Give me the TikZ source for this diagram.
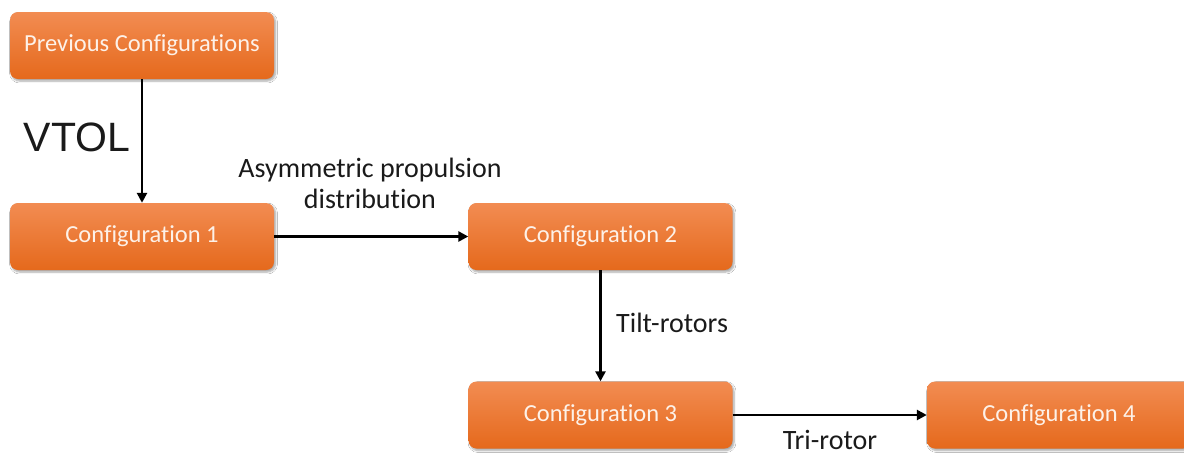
\documentclass[tikz,border=0pt]{standalone}
\usepackage{fontspec}
\setmainfont{Carlito}[Ligatures={NoCommon}]
\newfontfamily\arialfont{Liberation Sans}
\usetikzlibrary{arrows.meta,shadows.blur}
\definecolor{boxtop}{HTML}{F28C52}
\definecolor{boxbot}{HTML}{E5691C}
\definecolor{boxtext}{HTML}{FDF1E8}
\definecolor{labeltext}{HTML}{1A1A1A}
\tikzset{
  config/.style={rounded corners=8pt, minimum width=264pt, minimum height=67pt,
    top color=boxtop, bottom color=boxbot, draw=none,
    blur shadow={shadow xshift=1.5pt, shadow yshift=-2pt, shadow blur steps=6, shadow opacity=35},
    text=boxtext, font=\fontsize{24.5}{28}\selectfont, inner sep=0pt},
  link/.style={draw=black, line width=2.8pt, -{Triangle[length=10pt,width=10pt]}},
  lbl/.style={text=labeltext, font=\fontsize{28}{31}\selectfont, align=center, inner sep=0pt}
}
\begin{document}
\begin{tikzpicture}[x=1pt,y=-1pt]
\useasboundingbox[fill=white] (0,0) rectangle (1184,456);
\begin{scope}
\clip (0,0) rectangle (1184,456);
\node[config] (prev) at (142,45.5) {Previous Configurations};
\node[config] (c1) at (142,236.5) {Configuration 1};
\node[config] (c2) at (600.5,236.5) {Configuration 2};
\node[config] (c3) at (600.5,415) {Configuration 3};
\node[config] (c4) at (1059,415) {Configuration 4};
\end{scope}

\draw[link] (prev) -- (c1);
\draw[link] (c1) -- (c2);
\draw[link] (c2) -- (c3);
\draw[link] (c3) -- (c4);

\node[lbl, font=\arialfont\fontsize{41}{48}\selectfont] (vtol) at (77,137) {VTOL};
\node[lbl] (asym) at (370,183) {Asymmetric propulsion\\distribution};
\node[lbl, anchor=west] (tilt) at (616,323) {Tilt-rotors};
\node[lbl] (tri) at (830,440) {Tri-rotor};
\end{tikzpicture}
\end{document}
